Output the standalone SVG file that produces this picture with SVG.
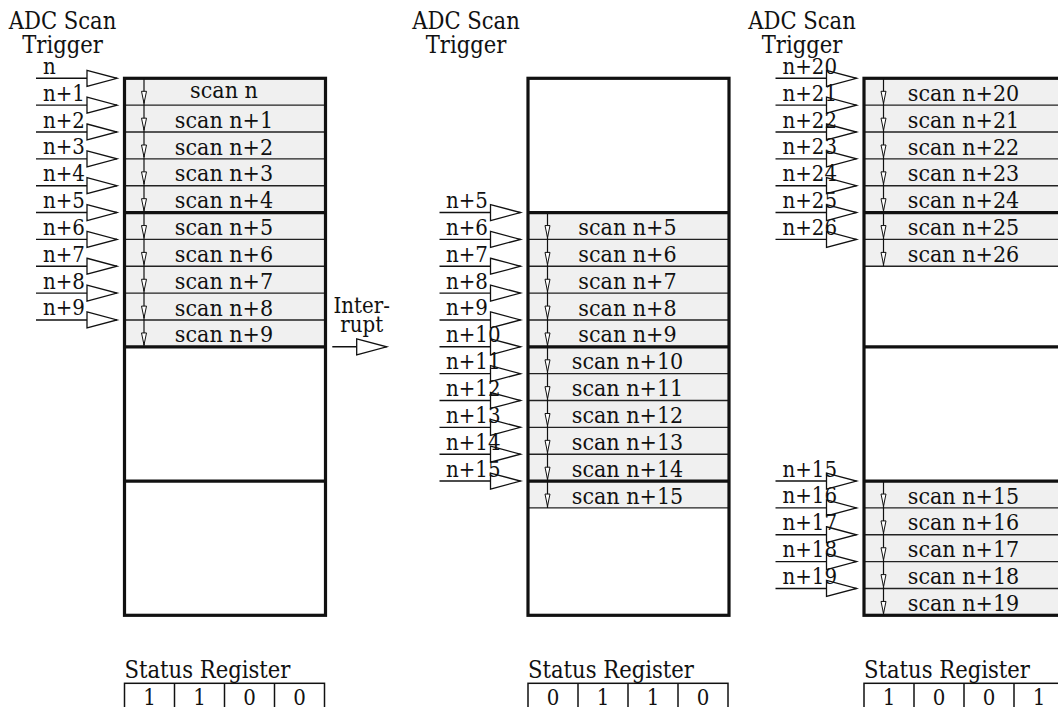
<svg xmlns="http://www.w3.org/2000/svg" width="1058" height="707" viewBox="0 0 1058 707">
<style>
.t{font-family:"DejaVu Serif Condensed","DejaVu Serif","Liberation Serif",serif;font-stretch:condensed;font-size:22px;fill:#111}
.h{font-size:23.5px}
.s{font-size:23px}
.c{text-anchor:middle}
.gray{fill:#f0f0f0}
.box{fill:none;stroke:#111;stroke-width:3.2}
.thick{stroke:#111;stroke-width:3.2}
.thin{stroke:#222;stroke-width:1.4}
.reg{fill:none;stroke:#111;stroke-width:1.5}
.trig{stroke:#111;stroke-width:1.4;fill:none;marker-end:url(#big)}
.flow{stroke:#111;stroke-width:1.2;fill:none;marker-mid:url(#small)}
</style>
<defs>
<marker id="big" markerUnits="userSpaceOnUse" viewBox="0 0 30 16" refX="30" refY="8" markerWidth="30" markerHeight="16" orient="auto" overflow="visible">
<path d="M0,0 L30,8 L0,16 Z" fill="#fff" stroke="#111" stroke-width="1.3"/>
</marker>
<marker id="small" markerUnits="userSpaceOnUse" viewBox="0 0 12 5" refX="12" refY="2.5" markerWidth="12" markerHeight="5" orient="auto" overflow="visible">
<path d="M0,0 L12,2.5 L0,5 Z" fill="#fff" stroke="#111" stroke-width="1"/>
</marker>
</defs>

<!-- Left column -->
<g id="col1" transform="translate(124.5,0)">
<g id="col1-title"><text class="t h c" x="-62" y="29.3">ADC Scan</text><text class="t h c" x="-62" y="53.3">Trigger</text></g>
<g id="col1-buffer">
<rect class="gray" x="0" y="78.3" width="201" height="268.5"/>
<line class="thin" x1="0" x2="201" y1="105.15" y2="105.15"/>
<line class="thin" x1="0" x2="201" y1="132" y2="132"/>
<line class="thin" x1="0" x2="201" y1="158.85" y2="158.85"/>
<line class="thin" x1="0" x2="201" y1="185.7" y2="185.7"/>
<line class="thin" x1="0" x2="201" y1="239.4" y2="239.4"/>
<line class="thin" x1="0" x2="201" y1="266.25" y2="266.25"/>
<line class="thin" x1="0" x2="201" y1="293.1" y2="293.1"/>
<line class="thin" x1="0" x2="201" y1="319.95" y2="319.95"/>
<line class="thick" x1="0" x2="201" y1="212.55" y2="212.55"/>
<line class="thick" x1="0" x2="201" y1="346.8" y2="346.8"/>
<line class="thick" x1="0" x2="201" y1="481.05" y2="481.05"/>
<rect class="box" x="0" y="78.3" width="201" height="537"/>
<text class="t s c" x="99.5" y="98.3">scan n</text>
<text class="t s c" x="99.5" y="127.65">scan n+1</text>
<text class="t s c" x="99.5" y="154.5">scan n+2</text>
<text class="t s c" x="99.5" y="181.35">scan n+3</text>
<text class="t s c" x="99.5" y="208.2">scan n+4</text>
<text class="t s c" x="99.5" y="235.05">scan n+5</text>
<text class="t s c" x="99.5" y="261.9">scan n+6</text>
<text class="t s c" x="99.5" y="288.75">scan n+7</text>
<text class="t s c" x="99.5" y="315.6">scan n+8</text>
<text class="t s c" x="99.5" y="342.45">scan n+9</text>
</g>
<g id="col1-connectors">
<polyline class="flow" points="19.5,78.3 19.5,103.3 19.5,130.15 19.5,157 19.5,183.85 19.5,210.7 19.5,237.55 19.5,264.4 19.5,291.25 19.5,318.1 19.5,344.95 19.5,346.8"/>
<line class="trig" x1="-88.5" x2="-7.5" y1="78.3" y2="78.3"/>
<line class="trig" x1="-88.5" x2="-7.5" y1="105.15" y2="105.15"/>
<line class="trig" x1="-88.5" x2="-7.5" y1="132" y2="132"/>
<line class="trig" x1="-88.5" x2="-7.5" y1="158.85" y2="158.85"/>
<line class="trig" x1="-88.5" x2="-7.5" y1="185.7" y2="185.7"/>
<line class="trig" x1="-88.5" x2="-7.5" y1="212.55" y2="212.55"/>
<line class="trig" x1="-88.5" x2="-7.5" y1="239.4" y2="239.4"/>
<line class="trig" x1="-88.5" x2="-7.5" y1="266.25" y2="266.25"/>
<line class="trig" x1="-88.5" x2="-7.5" y1="293.1" y2="293.1"/>
<line class="trig" x1="-88.5" x2="-7.5" y1="319.95" y2="319.95"/>
<text class="t" x="-81.5" y="73.8">n</text>
<text class="t" x="-81.5" y="100.65">n+1</text>
<text class="t" x="-81.5" y="127.5">n+2</text>
<text class="t" x="-81.5" y="154.35">n+3</text>
<text class="t" x="-81.5" y="181.2">n+4</text>
<text class="t" x="-81.5" y="208.05">n+5</text>
<text class="t" x="-81.5" y="234.9">n+6</text>
<text class="t" x="-81.5" y="261.75">n+7</text>
<text class="t" x="-81.5" y="288.6">n+8</text>
<text class="t" x="-81.5" y="315.45">n+9</text>
</g>
<g id="col1-status">
<text class="t h" x="0" y="678">Status Register</text>
<rect class="reg" x="0" y="683.3" width="200" height="40"/>
<line class="reg" x1="50" x2="50" y1="683.3" y2="707"/>
<line class="reg" x1="100" x2="100" y1="683.3" y2="707"/>
<line class="reg" x1="150" x2="150" y1="683.3" y2="707"/>
<text class="t c" x="25" y="704.5">1</text>
<text class="t c" x="75" y="704.5">1</text>
<text class="t c" x="125" y="704.5">0</text>
<text class="t c" x="175" y="704.5">0</text>
</g>
</g>

<g id="interrupt">
<text class="t c" x="361.7" y="313">Inter-</text>
<text class="t c" x="361.7" y="331.5">rupt</text>
<line class="trig" x1="332.3" x2="386.7" y1="346.8" y2="346.8"/>
</g>

<!-- Middle column -->
<g id="col2" transform="translate(528,0)">
<g id="col2-title"><text class="t h c" x="-62" y="29.3">ADC Scan</text><text class="t h c" x="-62" y="53.3">Trigger</text></g>
<g id="col2-buffer">
<rect class="gray" x="0" y="212.55" width="201" height="295.35"/>
<line class="thin" x1="0" x2="201" y1="239.4" y2="239.4"/>
<line class="thin" x1="0" x2="201" y1="266.25" y2="266.25"/>
<line class="thin" x1="0" x2="201" y1="293.1" y2="293.1"/>
<line class="thin" x1="0" x2="201" y1="319.95" y2="319.95"/>
<line class="thin" x1="0" x2="201" y1="373.65" y2="373.65"/>
<line class="thin" x1="0" x2="201" y1="400.5" y2="400.5"/>
<line class="thin" x1="0" x2="201" y1="427.35" y2="427.35"/>
<line class="thin" x1="0" x2="201" y1="454.2" y2="454.2"/>
<line class="thin" x1="0" x2="201" y1="507.9" y2="507.9"/>
<line class="thick" x1="0" x2="201" y1="212.55" y2="212.55"/>
<line class="thick" x1="0" x2="201" y1="346.8" y2="346.8"/>
<line class="thick" x1="0" x2="201" y1="481.05" y2="481.05"/>
<rect class="box" x="0" y="78.3" width="201" height="537"/>
<text class="t s c" x="99.5" y="235.05">scan n+5</text>
<text class="t s c" x="99.5" y="261.9">scan n+6</text>
<text class="t s c" x="99.5" y="288.75">scan n+7</text>
<text class="t s c" x="99.5" y="315.6">scan n+8</text>
<text class="t s c" x="99.5" y="342.45">scan n+9</text>
<text class="t s c" x="99.5" y="369.3">scan n+10</text>
<text class="t s c" x="99.5" y="396.15">scan n+11</text>
<text class="t s c" x="99.5" y="423">scan n+12</text>
<text class="t s c" x="99.5" y="449.85">scan n+13</text>
<text class="t s c" x="99.5" y="476.7">scan n+14</text>
<text class="t s c" x="99.5" y="503.55">scan n+15</text>
</g>
<g id="col2-connectors">
<polyline class="flow" points="19.5,212.55 19.5,237.55 19.5,264.4 19.5,291.25 19.5,318.1 19.5,344.95 19.5,371.8 19.5,398.65 19.5,425.5 19.5,452.35 19.5,479.2 19.5,506.05 19.5,507.9"/>
<line class="trig" x1="-88.5" x2="-7.5" y1="212.55" y2="212.55"/>
<line class="trig" x1="-88.5" x2="-7.5" y1="239.4" y2="239.4"/>
<line class="trig" x1="-88.5" x2="-7.5" y1="266.25" y2="266.25"/>
<line class="trig" x1="-88.5" x2="-7.5" y1="293.1" y2="293.1"/>
<line class="trig" x1="-88.5" x2="-7.5" y1="319.95" y2="319.95"/>
<line class="trig" x1="-88.5" x2="-7.5" y1="346.8" y2="346.8"/>
<line class="trig" x1="-88.5" x2="-7.5" y1="373.65" y2="373.65"/>
<line class="trig" x1="-88.5" x2="-7.5" y1="400.5" y2="400.5"/>
<line class="trig" x1="-88.5" x2="-7.5" y1="427.35" y2="427.35"/>
<line class="trig" x1="-88.5" x2="-7.5" y1="454.2" y2="454.2"/>
<line class="trig" x1="-88.5" x2="-7.5" y1="481.05" y2="481.05"/>
<text class="t" x="-82" y="208.05">n+5</text>
<text class="t" x="-82" y="234.9">n+6</text>
<text class="t" x="-82" y="261.75">n+7</text>
<text class="t" x="-82" y="288.6">n+8</text>
<text class="t" x="-82" y="315.45">n+9</text>
<text class="t" x="-82" y="342.3">n+10</text>
<text class="t" x="-82" y="369.15">n+11</text>
<text class="t" x="-82" y="396">n+12</text>
<text class="t" x="-82" y="422.85">n+13</text>
<text class="t" x="-82" y="449.7">n+14</text>
<text class="t" x="-82" y="476.55">n+15</text>
</g>
<g id="col2-status">
<text class="t h" x="0" y="678">Status Register</text>
<rect class="reg" x="0" y="683.3" width="200" height="40"/>
<line class="reg" x1="50" x2="50" y1="683.3" y2="707"/>
<line class="reg" x1="100" x2="100" y1="683.3" y2="707"/>
<line class="reg" x1="150" x2="150" y1="683.3" y2="707"/>
<text class="t c" x="25" y="704.5">0</text>
<text class="t c" x="75" y="704.5">1</text>
<text class="t c" x="125" y="704.5">1</text>
<text class="t c" x="175" y="704.5">0</text>
</g>
</g>

<!-- Right column -->
<g id="col3" transform="translate(864,0)">
<g id="col3-title"><text class="t h c" x="-62" y="29.3">ADC Scan</text><text class="t h c" x="-62" y="53.3">Trigger</text></g>
<g id="col3-buffer">
<rect class="gray" x="0" y="78.3" width="201" height="187.95"/>
<rect class="gray" x="0" y="481.05" width="201" height="134.25"/>
<line class="thin" x1="0" x2="201" y1="105.15" y2="105.15"/>
<line class="thin" x1="0" x2="201" y1="132" y2="132"/>
<line class="thin" x1="0" x2="201" y1="158.85" y2="158.85"/>
<line class="thin" x1="0" x2="201" y1="185.7" y2="185.7"/>
<line class="thin" x1="0" x2="201" y1="239.4" y2="239.4"/>
<line class="thin" x1="0" x2="201" y1="266.25" y2="266.25"/>
<line class="thin" x1="0" x2="201" y1="507.9" y2="507.9"/>
<line class="thin" x1="0" x2="201" y1="534.75" y2="534.75"/>
<line class="thin" x1="0" x2="201" y1="561.6" y2="561.6"/>
<line class="thin" x1="0" x2="201" y1="588.45" y2="588.45"/>
<line class="thick" x1="0" x2="201" y1="212.55" y2="212.55"/>
<line class="thick" x1="0" x2="201" y1="346.8" y2="346.8"/>
<line class="thick" x1="0" x2="201" y1="481.05" y2="481.05"/>
<rect class="box" x="0" y="78.3" width="201" height="537"/>
<text class="t s c" x="99.5" y="100.8">scan n+20</text>
<text class="t s c" x="99.5" y="127.65">scan n+21</text>
<text class="t s c" x="99.5" y="154.5">scan n+22</text>
<text class="t s c" x="99.5" y="181.35">scan n+23</text>
<text class="t s c" x="99.5" y="208.2">scan n+24</text>
<text class="t s c" x="99.5" y="235.05">scan n+25</text>
<text class="t s c" x="99.5" y="261.9">scan n+26</text>
<text class="t s c" x="99.5" y="503.55">scan n+15</text>
<text class="t s c" x="99.5" y="530.4">scan n+16</text>
<text class="t s c" x="99.5" y="557.25">scan n+17</text>
<text class="t s c" x="99.5" y="584.1">scan n+18</text>
<text class="t s c" x="99.5" y="610.95">scan n+19</text>
</g>
<g id="col3-connectors">
<polyline class="flow" points="19.5,78.3 19.5,103.3 19.5,130.15 19.5,157 19.5,183.85 19.5,210.7 19.5,237.55 19.5,264.4 19.5,266.25"/>
<polyline class="flow" points="19.5,481.05 19.5,506.05 19.5,532.9 19.5,559.75 19.5,586.6 19.5,613.45 19.5,615.3"/>
<line class="trig" x1="-88.5" x2="-7.5" y1="78.3" y2="78.3"/>
<line class="trig" x1="-88.5" x2="-7.5" y1="105.15" y2="105.15"/>
<line class="trig" x1="-88.5" x2="-7.5" y1="132" y2="132"/>
<line class="trig" x1="-88.5" x2="-7.5" y1="158.85" y2="158.85"/>
<line class="trig" x1="-88.5" x2="-7.5" y1="185.7" y2="185.7"/>
<line class="trig" x1="-88.5" x2="-7.5" y1="212.55" y2="212.55"/>
<line class="trig" x1="-88.5" x2="-7.5" y1="239.4" y2="239.4"/>
<line class="trig" x1="-88.5" x2="-7.5" y1="481.05" y2="481.05"/>
<line class="trig" x1="-88.5" x2="-7.5" y1="507.9" y2="507.9"/>
<line class="trig" x1="-88.5" x2="-7.5" y1="534.75" y2="534.75"/>
<line class="trig" x1="-88.5" x2="-7.5" y1="561.6" y2="561.6"/>
<line class="trig" x1="-88.5" x2="-7.5" y1="588.45" y2="588.45"/>
<text class="t" x="-81.5" y="73.8">n+20</text>
<text class="t" x="-81.5" y="100.65">n+21</text>
<text class="t" x="-81.5" y="127.5">n+22</text>
<text class="t" x="-81.5" y="154.35">n+23</text>
<text class="t" x="-81.5" y="181.2">n+24</text>
<text class="t" x="-81.5" y="208.05">n+25</text>
<text class="t" x="-81.5" y="234.9">n+26</text>
<text class="t" x="-81.5" y="476.55">n+15</text>
<text class="t" x="-81.5" y="503.4">n+16</text>
<text class="t" x="-81.5" y="530.25">n+17</text>
<text class="t" x="-81.5" y="557.1">n+18</text>
<text class="t" x="-81.5" y="583.95">n+19</text>
</g>
<g id="col3-status">
<text class="t h" x="0" y="678">Status Register</text>
<rect class="reg" x="0" y="683.3" width="200" height="40"/>
<line class="reg" x1="50" x2="50" y1="683.3" y2="707"/>
<line class="reg" x1="100" x2="100" y1="683.3" y2="707"/>
<line class="reg" x1="150" x2="150" y1="683.3" y2="707"/>
<text class="t c" x="25" y="704.5">1</text>
<text class="t c" x="75" y="704.5">0</text>
<text class="t c" x="125" y="704.5">0</text>
<text class="t c" x="175" y="704.5">1</text>
</g>
</g>
</svg>
